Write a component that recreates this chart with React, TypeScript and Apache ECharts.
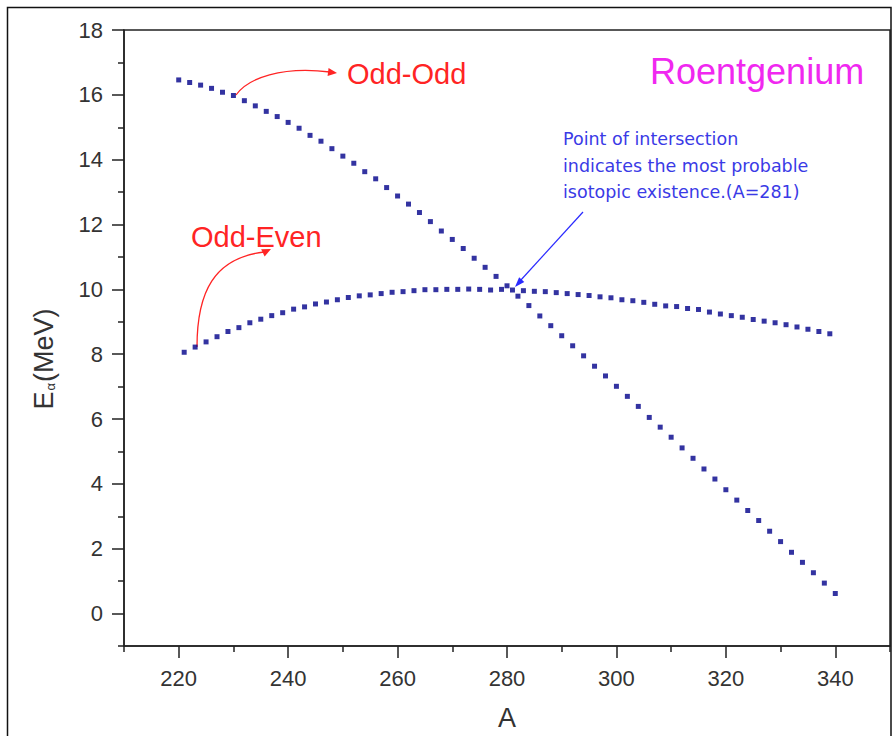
import React, { useEffect, useRef } from 'react';
import * as echarts from 'echarts';

// Odd-Odd isotopes (A even)
const ODD_ODD_A = [
  220, 222, 224, 226, 228, 230, 232, 234, 236, 238, 240, 242, 244, 246, 248, 250,
  252, 254, 256, 258, 260, 262, 264, 266, 268, 270, 272, 274, 276, 278, 280, 282,
  284, 286, 288, 290, 292, 294, 296, 298, 300, 302, 304, 306, 308, 310, 312, 314,
  316, 318, 320, 322, 324, 326, 328, 330, 332, 334, 336, 338, 340,
];
const ODD_ODD_E = [
  16.46, 16.38, 16.30, 16.20, 16.08, 15.98, 15.82, 15.66, 15.49, 15.33, 15.15, 14.97,
  14.75, 14.57, 14.34, 14.11, 13.89, 13.63, 13.41, 13.14, 12.88, 12.63, 12.37, 12.09,
  11.80, 11.54, 11.26, 10.96, 10.68, 10.40, 10.11, 9.79, 9.50, 9.18, 8.88, 8.57,
  8.26, 7.95, 7.63, 7.33, 7.01, 6.70, 6.39, 6.05, 5.75, 5.44, 5.11, 4.79,
  4.46, 4.15, 3.82, 3.50, 3.18, 2.87, 2.54, 2.22, 1.89, 1.58, 1.26, 0.94, 0.62,
];

// Odd-Even isotopes (A odd)
const ODD_EVEN_A = [
  221, 223, 225, 227, 229, 231, 233, 235, 237, 239, 241, 243, 245, 247, 249, 251,
  253, 255, 257, 259, 261, 263, 265, 267, 269, 271, 273, 275, 277, 279, 281, 283,
  285, 287, 289, 291, 293, 295, 297, 299, 301, 303, 305, 307, 309, 311, 313, 315,
  317, 319, 321, 323, 325, 327, 329, 331, 333, 335, 337, 339,
];
const ODD_EVEN_E = [
  8.06, 8.22, 8.38, 8.54, 8.70, 8.82, 8.97, 9.08, 9.19, 9.28, 9.39, 9.46,
  9.55, 9.61, 9.68, 9.75, 9.80, 9.83, 9.87, 9.91, 9.93, 9.96, 9.99, 9.99,
  10.00, 10.00, 10.01, 10.00, 9.98, 10.00, 9.98, 9.96, 9.94, 9.93, 9.90, 9.87,
  9.84, 9.81, 9.77, 9.74, 9.68, 9.65, 9.60, 9.54, 9.49, 9.47, 9.41, 9.38,
  9.30, 9.24, 9.19, 9.14, 9.07, 9.02, 8.97, 8.91, 8.84, 8.77, 8.70, 8.63,
];

const X_MAJOR = [220, 240, 260, 280, 300, 320, 340];
const X_MINOR = [210, 230, 250, 270, 290, 310, 330, 350];
const Y_MAJOR = [0, 2, 4, 6, 8, 10, 12, 14, 16, 18];
const Y_MINOR = [-1, 1, 3, 5, 7, 9, 11, 13, 15, 17];

const NOTE_LINES = [
  'Point of intersection',
  'indicates the most probable',
  'isotopic existence.(A=281)',
];

const FONT = '"Liberation Sans", Arial, sans-serif';
const AXIS_COLOR = '#222';
const LABEL_COLOR = '#333';
const MARK_COLOR = '#00008a';
const RED = '#ff2424';
const BLUE = '#2a2aff';

function arrowHead(tipX: number, tipY: number, angle: number, len: number, half: number, color: string) {
  const bx = tipX - len * Math.cos(angle);
  const by = tipY - len * Math.sin(angle);
  const px = -Math.sin(angle) * half;
  const py = Math.cos(angle) * half;
  return {
    type: 'polygon',
    silent: true,
    shape: { points: [[tipX, tipY], [bx + px, by + py], [bx - px, by - py]] },
    style: { fill: color },
  };
}

export default function App() {
  const ref = useRef<HTMLDivElement>(null);

  useEffect(() => {
    if (!ref.current) return;
    const chart = echarts.init(ref.current, undefined, { renderer: 'svg' });

    const oddOdd = ODD_ODD_A.map((a, i) => [a, ODD_ODD_E[i]]);
    const oddEven = ODD_EVEN_A.map((a, i) => [a, ODD_EVEN_E[i]]);

    const majorTick = { show: true, length: 12, lineStyle: { color: AXIS_COLOR, width: 1.5 } };
    const minorTick = { show: true, length: 6, lineStyle: { color: AXIS_COLOR, width: 1.5 } };

    const option: any = {
      animation: false,
      backgroundColor: '#ffffff',
      grid: {
        left: 124,
        top: 30,
        width: 766,
        height: 618,
        show: true,
        borderColor: AXIS_COLOR,
        borderWidth: 1.5,
        backgroundColor: 'transparent',
      },
      xAxis: [
        {
          type: 'value',
          min: 210,
          max: 350,
          position: 'bottom',
          axisLine: { show: true, onZero: false, lineStyle: { color: AXIS_COLOR, width: 1.5 } },
          axisTick: { ...majorTick, customValues: X_MAJOR },
          axisLabel: {
            customValues: X_MAJOR,
            margin: 21,
            fontSize: 22,
            color: LABEL_COLOR,
            fontFamily: FONT,
          },
          splitLine: { show: false },
          name: 'A',
          nameLocation: 'middle',
          nameGap: 58,
          nameTextStyle: { fontSize: 27, color: LABEL_COLOR, fontFamily: FONT },
        },
        {
          type: 'value',
          min: 210,
          max: 350,
          position: 'bottom',
          axisLine: { show: false, onZero: false },
          axisTick: { ...minorTick, customValues: X_MINOR },
          axisLabel: { show: false },
          splitLine: { show: false },
        },
      ],
      yAxis: [
        {
          type: 'value',
          min: -1,
          max: 18,
          position: 'left',
          axisLine: { show: true, onZero: false, lineStyle: { color: AXIS_COLOR, width: 1.5 } },
          axisTick: { ...majorTick, customValues: Y_MAJOR },
          axisLabel: {
            customValues: Y_MAJOR,
            margin: 21,
            fontSize: 22,
            color: LABEL_COLOR,
            fontFamily: FONT,
          },
          splitLine: { show: false },
        },
        {
          type: 'value',
          min: -1,
          max: 18,
          position: 'left',
          axisLine: { show: false, onZero: false },
          axisTick: { ...minorTick, customValues: Y_MINOR },
          axisLabel: { show: false },
          splitLine: { show: false },
        },
      ],
      series: [
        {
          name: 'Odd-Odd',
          type: 'scatter',
          xAxisIndex: 0,
          yAxisIndex: 0,
          symbol: 'rect',
          symbolSize: [5, 5],
          itemStyle: { color: MARK_COLOR },
          data: oddOdd,
        },
        {
          name: 'Odd-Even',
          type: 'scatter',
          xAxisIndex: 0,
          yAxisIndex: 0,
          symbol: 'rect',
          symbolSize: [5, 5],
          itemStyle: { color: MARK_COLOR },
          data: oddEven,
        },
      ],
      graphic: [
        // outer frame
        {
          type: 'rect',
          silent: true,
          shape: { x: 7.5, y: 7.5, width: 883.5, height: 740 },
          style: { fill: 'none', stroke: '#111', lineWidth: 1.5 },
        },
        // y-axis title
        {
          type: 'text',
          x: 42,
          y: 359,
          rotation: Math.PI / 2,
          silent: true,
          style: {
            text: '{e|E}{a|α}{m|(MeV)}',
            align: 'center',
            verticalAlign: 'middle',
            fill: LABEL_COLOR,
            rich: {
              e: { fontSize: 27, fontFamily: FONT, fill: LABEL_COLOR, verticalAlign: 'bottom', lineHeight: 30 },
              a: { fontSize: 13, fontFamily: FONT, fill: LABEL_COLOR, verticalAlign: 'bottom', lineHeight: 22, padding: [0, 1, 0, 1] },
              m: { fontSize: 27, fontFamily: FONT, fill: LABEL_COLOR, verticalAlign: 'bottom', lineHeight: 30 },
            },
          },
        },
        // Roentgenium
        {
          type: 'text',
          x: 650,
          y: 71,
          silent: true,
          style: {
            text: 'Roentgenium',
            fill: '#f028f0',
            font: `normal 36px ${FONT}`,
            align: 'left',
            verticalAlign: 'middle',
          },
        },
        // Odd-Odd label & arrow
        {
          type: 'text',
          x: 347,
          y: 74,
          silent: true,
          style: { text: 'Odd-Odd', fill: RED, font: `normal 29px ${FONT}`, align: 'left', verticalAlign: 'middle' },
        },
        {
          type: 'bezierCurve',
          silent: true,
          shape: { x1: 236, y1: 95, cpx1: 248, cpy1: 78, cpx2: 282, cpy2: 66, x2: 330, y2: 72 },
          style: { stroke: RED, lineWidth: 1.3, fill: 'none' },
        },
        arrowHead(337, 73, 0.12, 9, 4, RED),
        // Odd-Even label & arrow
        {
          type: 'text',
          x: 191,
          y: 237,
          silent: true,
          style: { text: 'Odd-Even', fill: RED, font: `normal 29px ${FONT}`, align: 'left', verticalAlign: 'middle' },
        },
        {
          type: 'bezierCurve',
          silent: true,
          shape: { x1: 197, y1: 347, cpx1: 197, cpy1: 292, cpx2: 214, cpy2: 258, x2: 264, y2: 252 },
          style: { stroke: RED, lineWidth: 1.3, fill: 'none' },
        },
        arrowHead(271, 249, -0.45, 9, 4, RED),
        // intersection note
        ...NOTE_LINES.map((t, i) => ({
          type: 'text',
          x: 563,
          y: 139 + i * 26.5,
          silent: true,
          style: {
            text: t,
            fill: '#3a3ae6',
            font: `normal 17.5px "DejaVu Sans", sans-serif`,
            align: 'left',
            verticalAlign: 'middle',
          },
        })),
        {
          type: 'line',
          silent: true,
          shape: { x1: 583, y1: 212, x2: 520, y2: 281 },
          style: { stroke: BLUE, lineWidth: 1.2 },
        },
        arrowHead(515, 287, Math.atan2(287 - 212, 515 - 583), 10, 3.5, BLUE),
      ],
    };

    chart.setOption(option);
    return () => chart.dispose();
  }, []);

  return (
    <div
      ref={ref}
      style={{ position: 'fixed', left: 0, top: 0, width: 894, height: 736, background: '#fff' }}
    />
  );
}
